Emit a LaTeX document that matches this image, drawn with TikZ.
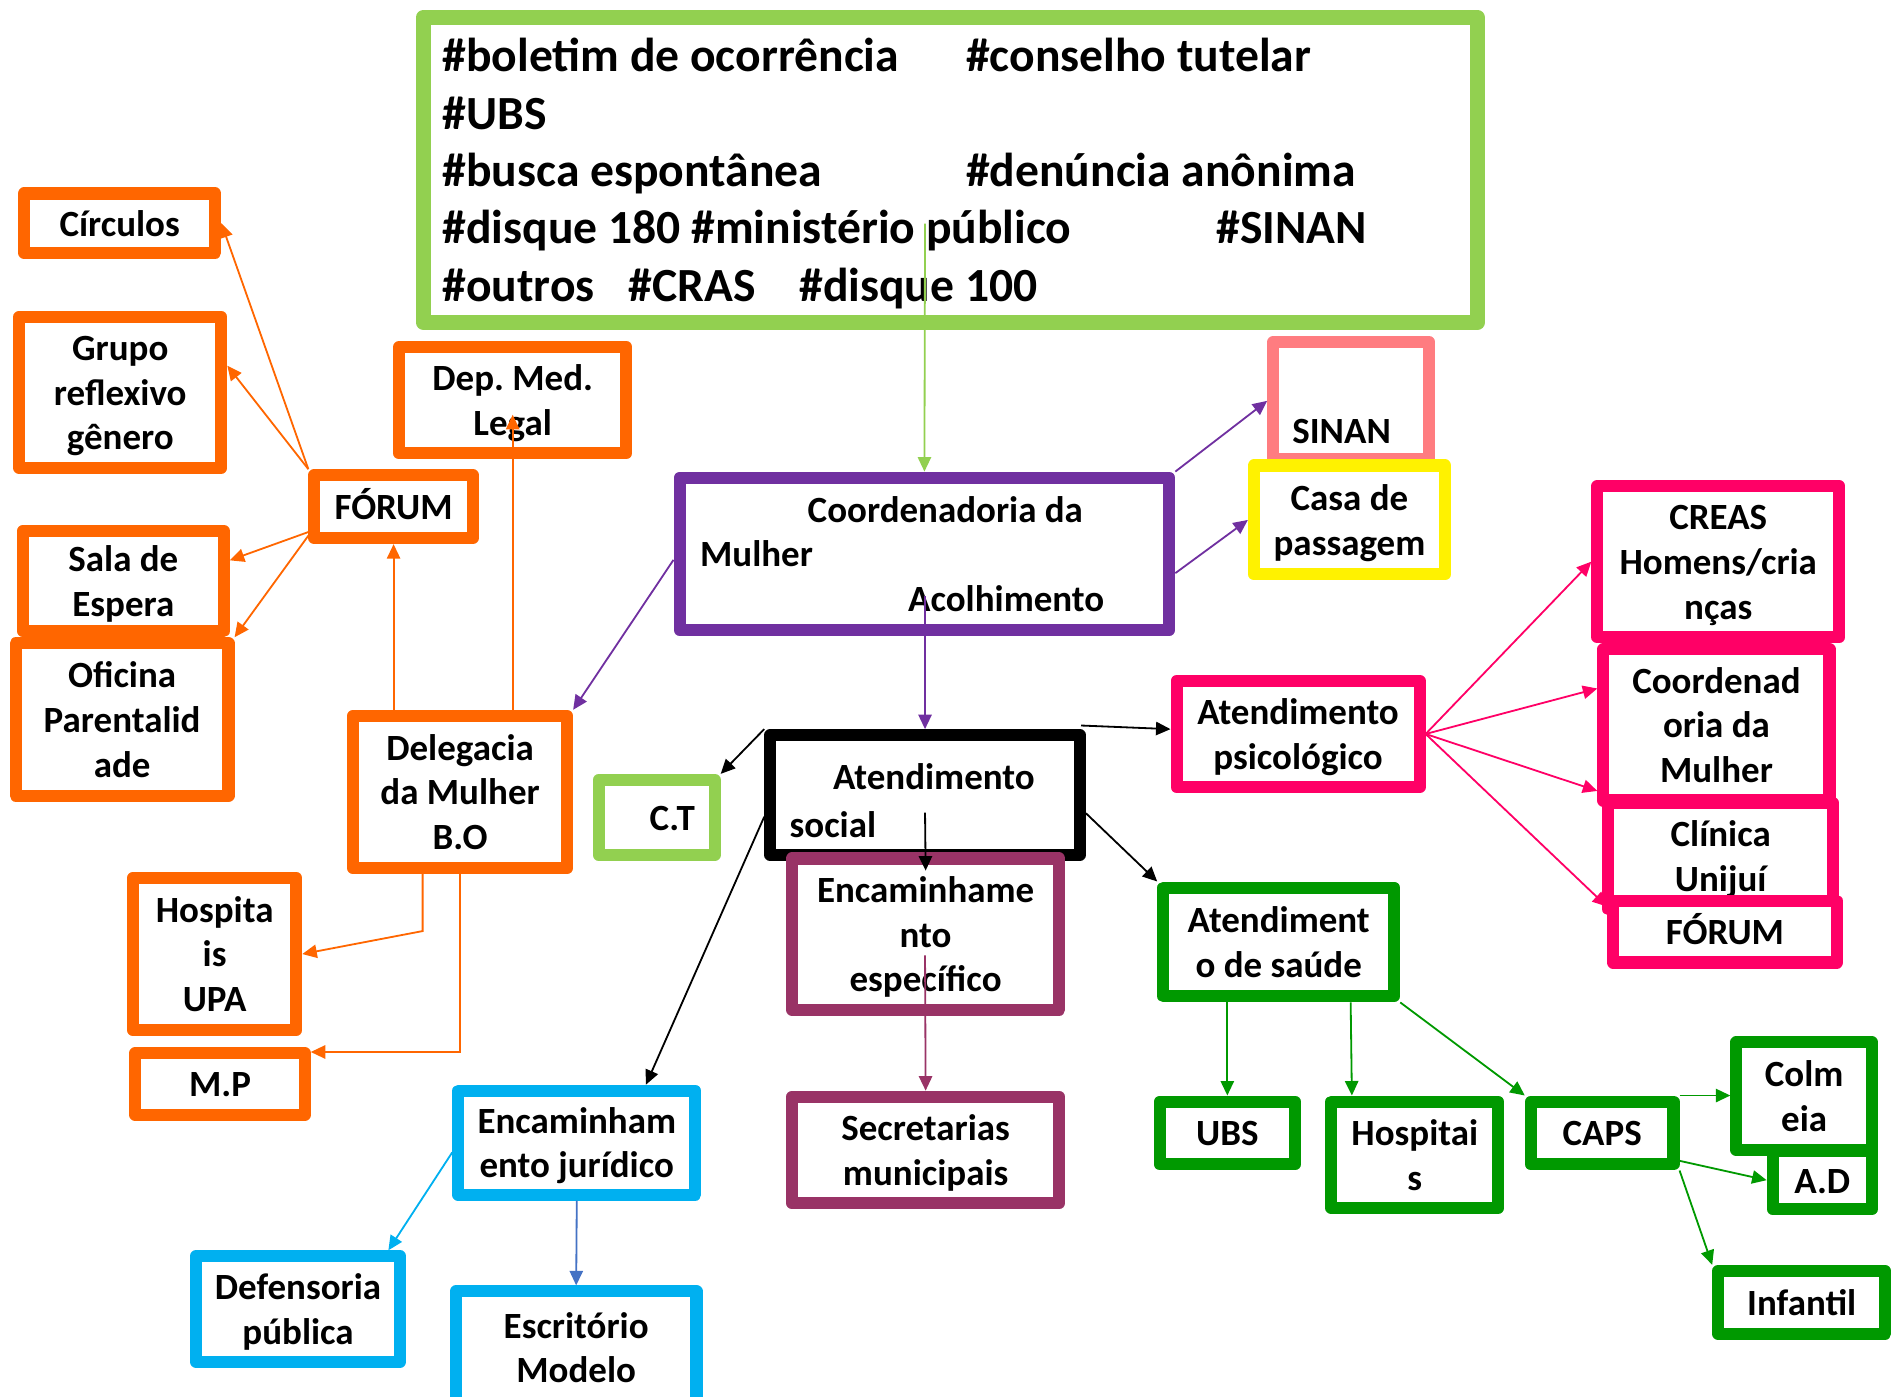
\documentclass[tikz,border=0pt]{standalone}
\usepackage{fontspec}
\setmainfont{Carlito}
\usetikzlibrary{arrows.meta,calc,positioning}

\definecolor{orng}{HTML}{FF6600}
\definecolor{lgreen}{HTML}{92D050}
\definecolor{purp}{HTML}{7030A0}
\definecolor{salmon}{HTML}{FF7C80}
\definecolor{mpink}{HTML}{FF0066}
\definecolor{wine}{HTML}{993366}
\definecolor{dgreen}{HTML}{009900}
\definecolor{sky}{HTML}{00B0F0}
\definecolor{steel}{HTML}{4472C4}

\def\topstrut{\leavevmode\vrule width0pt height0.97em depth0pt\relax}
\def\botstrut{\vrule width0pt height0pt depth0.27em\relax}
\def\wordgap{\spaceskip=0.226em\relax\xspaceskip=0.226em\relax}

\tikzset{
  box/.style={draw, line width=2mm, fill=white, line join=round, align=center,
    inner sep=0pt, text=black, font=\bfseries\fontsize{17.4}{21}\selectfont,
    execute at begin node={\wordgap\topstrut},
    execute at end node={\botstrut}},
  sz/.style 2 args={minimum width=#1*0.2mm, minimum height=#2*0.2mm, text width=#1*0.2mm},
  obox/.style={box, draw=orng},
  gbox/.style={box, draw=lgreen},
  pbox/.style={box, draw=purp},
  sbox/.style={box, draw=salmon},
  ybox/.style={box, draw=yellow},
  kbox/.style={box, draw=black},
  wbox/.style={box, draw=wine},
  mbox/.style={box, draw=mpink},
  dbox/.style={box, draw=dgreen},
  bbox/.style={box, draw=sky},
  link/.style={-{Triangle[length=2.4mm,width=2.2mm]}, line width=0.3mm},
}

\begin{document}
\begin{tikzpicture}[x=0.2mm, y=-0.2mm]
\useasboundingbox (0,0) rectangle (1568,1155);

% Entry channels
\node[gbox, line width=2.5mm, sz={871.5}{252.5}, align=left, text width=168mm, inner xsep=3.15mm,
  font=\bfseries\fontsize{22.4}{27}\selectfont] (tags) at (786,140.5)
  {\makebox[86.6mm][l]{\#boletim de ocorrência}\#conselho tutelar\\
   \#UBS\\
   \makebox[86.6mm][l]{\#busca espontânea}\#denúncia anônima\\
   \makebox[128mm][l]{\#disque 180 \#ministério público}\#SINAN\\
   \makebox[30.8mm][l]{\#outros}\makebox[28.2mm][l]{\#CRAS}\#disque 100};

% Left side (orange)
\node[obox, sz={158}{49}] (circ) at (99,184.5) {Círculos};
\node[obox, sz={167}{125}] (grupo) at (99.5,324.5) {Grupo\\reflexivo\\gênero};
\node[obox, sz={166}{83}] (sala) at (102,480.5) {Sala de\\Espera};
\node[obox, sz={176}{126}] (oficina) at (101,595) {Oficina\\Parentalid\\ade};
\node[obox, sz={131}{52}] (forum) at (325.5,419) {FÓRUM};
\node[obox, sz={188}{88}] (dml) at (424,331) {Dep. Med.\\Legal};
\node[obox, sz={177}{126}] (deleg) at (380.5,655) {Delegacia\\da Mulher\\B.O};
\node[obox, sz={135}{126}] (hupa) at (177.5,789) {Hospita\\is\\UPA};
\node[obox, sz={140}{51}] (mp) at (182,896.5) {M.P};

% Centre
\node[pbox, sz={405}{126}, align=left, text width=74.2mm, inner xsep=3.4mm] (coordm) at (764.5,458)
  {\hspace*{17.8mm}Coordenadoria da\\Mulher\\\hspace*{34.4mm}Acolhimento};
\node[sbox, sz={129}{97}] (sinan) at (1117.5,331.5) {\hspace*{-3.2mm}\smash{\raisebox{-4.92mm}{SINAN}}};
\node[ybox, sz={158}{90}] (casa) at (1116,430) {Casa de\\passagem};
\node[kbox, sz={256}{99}, align=left, text width=44.8mm, inner xsep=3.2mm,
  font=\bfseries\fontsize{17.4}{22.2}\selectfont] (atsoc) at (765,657.5)
  {\vrule width0pt height1.27em\relax\hspace*{7.2mm}Atendimento\\social};
\node[gbox, sz={96}{62}] (ct) at (543,676) {\hspace*{5.2mm}C.T};
\node[wbox, sz={221}{125}] (encesp) at (765.5,772.5) {Encaminhame\\nto\\específico};
\node[wbox, sz={221}{88}] (secr) at (765.5,951) {Secretarias\\municipais};

% Right side (pink)
\node[mbox, sz={201}{88}] (psico) at (1073.5,607) {Atendimento\\psicológico};
\node[mbox, sz={200}{125}] (creas) at (1421,464.5) {CREAS\\Homens/cria\\nças};
\node[mbox, sz={187}{125}] (coordp) at (1419.5,599.5) {Coordenad\\oria da\\Mulher};
\node[mbox, sz={186}{88}] (clinica) at (1423,708) {Clínica\\Unijuí};
\node[mbox, sz={185}{51}] (forump) at (1426.5,770.5) {FÓRUM};

% Health (green)
\node[dbox, sz={191}{90}] (saude) at (1057.5,779) {Atendiment\\o de saúde};
\node[dbox, sz={112}{52}] (ubs) at (1015,937) {UBS};
\node[dbox, sz={138}{88}] (hosp) at (1170,955) {Hospitai\\s};
\node[dbox, sz={118}{52}] (caps) at (1325,937) {CAPS};
\node[dbox, sz={112}{89}] (colm) at (1492,906.5) {Colm\\eia};
\node[dbox, sz={82}{48}] (ad) at (1507,976) {A.D};
\node[dbox, sz={138}{52}] (infant) at (1490,1077) {Infantil};

% Legal (blue)
\node[bbox, sz={196}{86}] (encjur) at (477,945) {Encaminham\\ento jurídico};
\node[bbox, sz={169}{87}] (defens) at (246.5,1082.5) {Defensoria\\pública};
\node[bbox, sz={199}{93}] (escr) at (476.5,1114.5) {Escritório\\Modelo};

% Start points inside boxes
\coordinate (tagsend) at (765,185);
\coordinate (acolh) at (765,493);
\coordinate (socmid) at (765,672);
\coordinate (espmid) at (765,790);

% Arrows
\draw[link, lgreen] (tagsend) -- (coordm.north);

\draw[link, purp] (coordm.north east) -- (sinan.west);
\draw[link, purp] ($(coordm.east)+(0,16)$) -- (casa.west);
\draw[link, purp] ($(coordm.west)+(0,5)$) -- (deleg.north east);
\draw[link, purp] (acolh) -- (atsoc.north);

\draw[link] (atsoc.north west) -- (ct.north east);
\draw[link] ($(atsoc.north east)+(-4,-3)$) -- (atsoc.north east -| psico.west);
\draw[link] (socmid) -- ($(encesp.north)+(0,15)$);
\draw[link] ($(atsoc.west)+(0,18)$) -- (encjur.40);
\draw[link] ($(atsoc.east)+(0,15)$) -- (saude.north west);

\draw[link, wine] (espmid) -- (secr.north);

\draw[link, mpink] (psico.east) -- (creas.west);
\draw[link, mpink] (psico.east) -- (coordp.163);
\draw[link, mpink] (psico.east) -- (coordp.209);
\draw[link, mpink] (psico.east) -- (forump.168);

\draw[link, dgreen] (ubs.north |- saude.south) -- (ubs.north);
\draw[link, dgreen] ($(saude.south east)+(-41,0)$) -- ($(hosp.north west)+(22,0)$);
\draw[link, dgreen] (saude.south east) -- (caps.north west);
\draw[link, dgreen] (caps.north east) -- (caps.north east -| colm.west);
\draw[link, dgreen] ($(caps.east)+(0,23)$) -- (ad.west);
\draw[link, dgreen] (caps.south east) -- (infant.north west);

\draw[link, sky] ($(encjur.west)+(0,8)$) -- (defens.33);
\draw[link, steel] (encjur.south) -- (escr.north);

\draw[link, orng] (deleg.north -| forum.south) -- (forum.south);
\draw[link, orng] (deleg.north -| dml.south) -- ($(dml.south)+(0,-37)$);
\draw[link, orng] ($(deleg.south)+(-31,0)$) -- ++(0,47) -- (hupa.east);
\draw[link, orng] (deleg.south) |- ($(mp.north east)+(0,4)$);
\draw[link, orng] (forum.north west) -- (circ.east);
\draw[link, orng] (forum.north west) -- (grupo.14);
\draw[link, orng] ($(forum.west)+(0,21)$) -- (sala.11);
\draw[link, orng] ($(forum.west)+(0,24)$) -- (oficina.north east);
\end{tikzpicture}
\end{document}
